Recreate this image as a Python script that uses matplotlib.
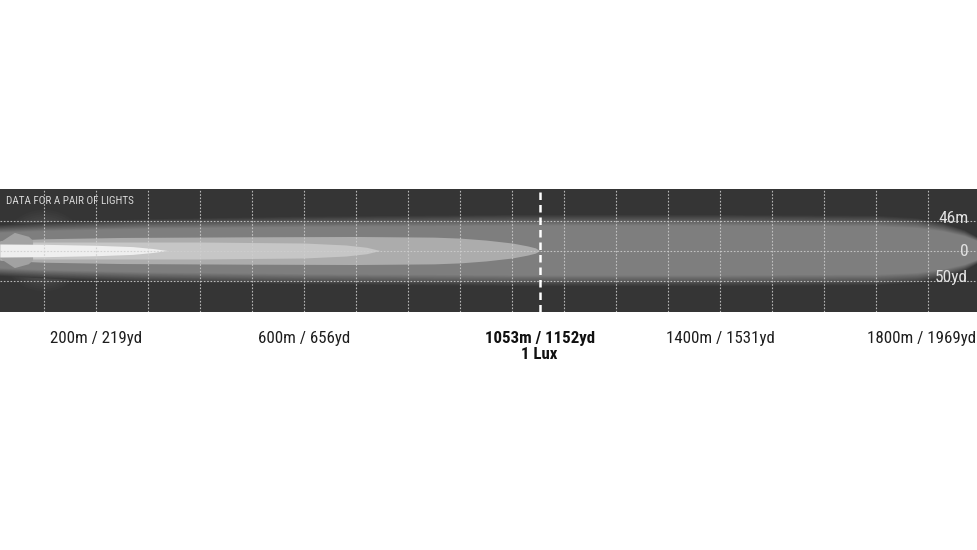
import matplotlib
matplotlib.use("Agg")
import matplotlib.pyplot as plt
import matplotlib.transforms as mtransforms
from matplotlib.patches import Ellipse, Polygon
import numpy as np

# isolux outlines: distance (m) and half width (m)
outer_d = [15, 100, 300, 600, 1000, 1400, 1700, 1780, 1830, 1870, 1900, 1930]
outer_w = [30, 33, 37, 40, 42, 42, 41, 38, 32, 24, 14, 0]

lux1_d = [15, 100, 250, 500, 700, 850, 900, 950, 1000, 1030, 1045, 1053]
lux1_w = [15, 18, 20, 21, 21.5, 20.5, 19, 16, 11.5, 7, 4, 0]

lux3_d = [15, 150, 400, 600, 680, 720, 746]
lux3_w = [13, 13, 13, 11.5, 8.5, 5, 0]

core_d = [15, 100, 200, 270, 310, 337]
core_w = [10, 9.5, 8, 6, 3, 0]

# arrow shaped spot at the lamp
spot_d = [15, 44, 71, 79, 79, 71, 44, 15]
spot_w = [12, 27, 21, 15, -15, -21, -27, -12]

grid_d = list(range(100, 1900, 100))
side_lines = [46, 0, -46]
side_labels = ["46m", "0", "50yd"]

dist_marks = [200, 600, 1400, 1800]
dist_labels = ["200m / 219yd", "600m / 656yd", "1400m / 1531yd", "1800m / 1969yd"]
lux_dist = 1053
lux_label = "1053m / 1152yd"

bg = np.array([0x35, 0x35, 0x35]) / 255


def blend(c, t):
    c = np.array(matplotlib.colors.to_rgb(c))
    return tuple(bg + (c - bg) * t)


plt.rcParams['font.family'] = ['Roboto Condensed', 'DejaVu Sans']

fig = plt.figure(figsize=(9.78, 5.5), dpi=100)
ax = fig.add_axes([0, (550 - 312) / 550, 1, 123 / 550])
ax.set_facecolor(bg)
ax.set_xlim(15.4, 1896)
ax.set_ylim(-94.3, 94.3)
for s in ax.spines.values():
    s.set_visible(False)
ax.set_xticks([])
ax.set_yticks([])

# soft glow round the lamp
n = 14
for k in range(n):
    sc = 1.0 - 0.055 * k
    ax.add_patch(Ellipse((100, 0), 165 * sc, 125 * sc, color=blend('#5e5e5e', (k + 1) / n), lw=0))

# outer soft band
od = np.array(outer_d)
ow = np.array(outer_w)
for k in range(n):
    sc = 1.3 - 0.03 * k
    ax.fill_between(od, -ow * sc, ow * sc, color=blend('#7e7e7e', (k + 1) / n), lw=0)

ax.fill_between(lux1_d, -np.array(lux1_w), lux1_w, color='#acacac', lw=0)
ax.fill_between(lux3_d, -np.array(lux3_w), lux3_w, color='#c6c6c6', lw=0)
ax.add_patch(Polygon(list(zip(spot_d, spot_w)), closed=True, color='#a2a2a2', lw=0))
ax.fill_between(core_d, -np.array(core_w), core_w, color='#efefef', lw=0)

# grid
for g in grid_d:
    ax.axvline(g, color='#cfcfcf', lw=0.8, ls=(0, (1.5, 1.5)), alpha=0.85)
for h in side_lines:
    ax.axhline(h, color='#cfcfcf', lw=0.8, ls=(0, (1.5, 1.5)), alpha=0.85)
ax.axvline(lux_dist, color='white', lw=1.8, ls=(0, (3, 2)))

ax.text(0.006, 0.9, "DATA FOR A PAIR OF LIGHTS", transform=ax.transAxes,
        color='#d8d8d8', fontsize=8, va='center', ha='left')

tr = mtransforms.blended_transform_factory(ax.transAxes, ax.transData)
for h, lab, dy in zip(side_lines, side_labels, [2.5, -0.8, 4]):
    ax.text(0.99, h + dy, lab, transform=tr,
            color='#e2e2e2', fontsize=12.5, ha='right', va='center')

tb = mtransforms.blended_transform_factory(ax.transData, ax.transAxes)
for i, (d, lab) in enumerate(zip(dist_marks, dist_labels)):
    shift = -7 if i == len(dist_marks) - 1 else 0
    ax.annotate(lab, (d, -0.215), xycoords=tb, xytext=(shift, 0), textcoords='offset pixels',
                fontsize=12.2, color='#1e1e1e', ha='center', va='center', annotation_clip=False)
ax.text(lux_dist, -0.215, lux_label, transform=tb, fontsize=12.2, color='#111111',
        ha='center', va='center', fontweight='bold', clip_on=False)
ax.text(lux_dist, -0.345, "1 Lux", transform=tb, fontsize=12.2, color='#111111',
        ha='center', va='center', fontweight='bold', clip_on=False)

fig.savefig("out.png", dpi=100, facecolor='white')
